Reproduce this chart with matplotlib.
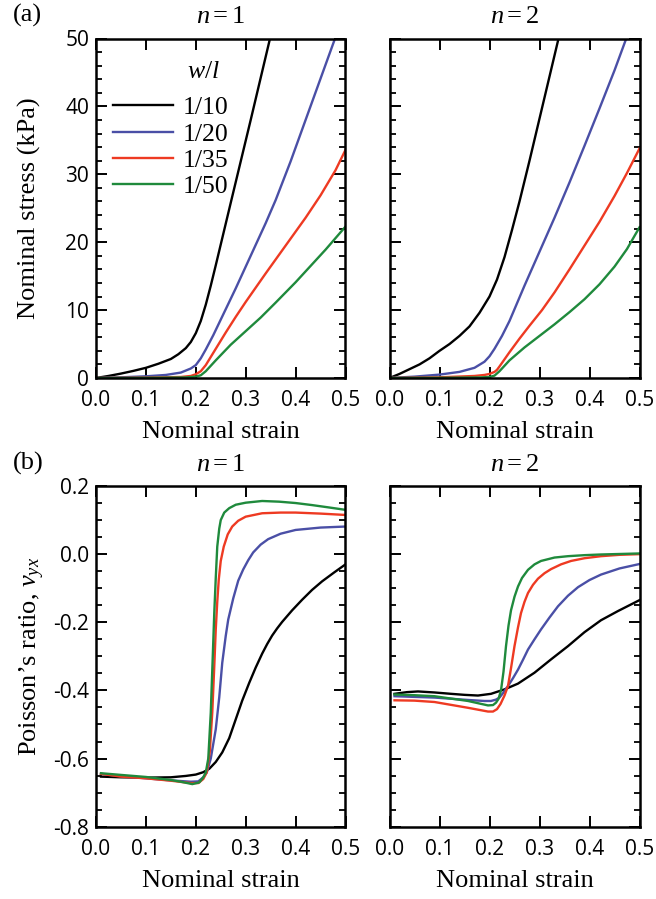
"""Stress-strain and Poisson's ratio curves for n = 1 and n = 2 (four w/l ratios)."""

import matplotlib

matplotlib.use("Agg")

import matplotlib.pyplot as plt
from matplotlib.ticker import FormatStrFormatter, MultipleLocator

plt.rcParams["font.family"] = "Liberation Serif"
plt.rcParams["mathtext.fontset"] = "custom"
plt.rcParams["mathtext.rm"] = "Liberation Serif"
plt.rcParams["mathtext.it"] = "Liberation Serif:italic"
plt.rcParams["axes.unicode_minus"] = False

WL_LABELS = ["1/10", "1/20", "1/35", "1/50"]
COLORS = ["#000000", "#4A4FA6", "#EE3A22", "#1F8A3C"]

# ---- (a) nominal stress (kPa), n = 1 ----
S1_10_X = [0, 0.025, 0.05, 0.075, 0.1, 0.125, 0.15, 0.165, 0.18, 0.19, 0.2, 0.21,
           0.22, 0.23, 0.24, 0.255, 0.27, 0.29, 0.31, 0.33, 0.35]
S1_10_Y = [0, 0.3, 0.65, 1.05, 1.5, 2.1, 2.8, 3.5, 4.4, 5.3, 6.6, 8.4,
           10.8, 13.6, 16.6, 21.2, 25.8, 31.9, 38.0, 44.2, 50.4]
S1_20_X = [0, 0.05, 0.1, 0.14, 0.17, 0.19, 0.2, 0.21, 0.22, 0.235, 0.25, 0.28,
           0.32, 0.34, 0.36, 0.39, 0.42, 0.45, 0.48]
S1_20_Y = [0, 0.1, 0.25, 0.45, 0.8, 1.4, 1.9, 2.9, 4.2, 6.3, 8.6, 13.2,
           19.6, 22.8, 26.2, 31.9, 38.0, 44.1, 50.2]
S1_35_X = [0, 0.1, 0.17, 0.19, 0.2, 0.21, 0.22, 0.23, 0.24, 0.26, 0.28, 0.3,
           0.34, 0.38, 0.42, 0.45, 0.48, 0.5]
S1_35_Y = [0, 0.05, 0.15, 0.3, 0.55, 1.0, 1.9, 3.1, 4.3, 6.7, 9.0, 11.2,
           15.4, 19.5, 23.6, 26.9, 30.6, 33.6]
S1_50_X = [0, 0.1, 0.18, 0.2, 0.21, 0.22, 0.23, 0.24, 0.27, 0.3, 0.33, 0.36,
           0.4, 0.43, 0.46, 0.48, 0.5]
S1_50_Y = [0, 0.02, 0.08, 0.2, 0.4, 1.0, 1.8, 2.6, 4.9, 6.9, 8.9, 11.1,
           14.1, 16.5, 18.9, 20.6, 22.3]

# ---- (a) nominal stress (kPa), n = 2 ----
S2_10_X = [0, 0.02, 0.04, 0.06, 0.08, 0.1, 0.12, 0.14, 0.16, 0.18, 0.2, 0.215,
           0.23, 0.245, 0.26, 0.28, 0.3, 0.32, 0.34]
S2_10_Y = [0, 0.6, 1.3, 2.0, 2.9, 4.0, 5.0, 6.2, 7.6, 9.6, 12.0, 14.5,
           17.8, 21.8, 26.0, 32.0, 38.2, 44.4, 50.6]
S2_20_X = [0, 0.05, 0.1, 0.14, 0.17, 0.19, 0.2, 0.21, 0.225, 0.24, 0.27, 0.3,
           0.33, 0.36, 0.39, 0.42, 0.45, 0.475]
S2_20_Y = [0, 0.2, 0.5, 0.9, 1.5, 2.4, 3.2, 4.3, 6.2, 8.4, 13.6, 18.6,
           23.6, 28.8, 34.2, 39.7, 45.3, 50.3]
S2_35_X = [0, 0.1, 0.17, 0.19, 0.2, 0.21, 0.215, 0.22, 0.24, 0.26, 0.28, 0.305,
           0.33, 0.36, 0.39, 0.42, 0.45, 0.475, 0.5]
S2_35_Y = [0, 0.1, 0.3, 0.45, 0.6, 0.9, 1.2, 1.7, 3.8, 5.8, 7.7, 10.0,
           12.6, 16.0, 19.5, 23.0, 26.8, 30.2, 33.8]
S2_50_X = [0, 0.1, 0.18, 0.2, 0.21, 0.22, 0.24, 0.27, 0.3, 0.33, 0.36, 0.39,
           0.42, 0.45, 0.475, 0.5]
S2_50_Y = [0, 0.03, 0.08, 0.15, 0.35, 1.0, 2.6, 4.5, 6.2, 7.9, 9.7, 11.6,
           13.8, 16.4, 19.0, 22.2]

# ---- (b) Poisson's ratio, n = 1 ----
P1_10_X = [0.01, 0.05, 0.1, 0.15, 0.18, 0.2, 0.215, 0.227, 0.24, 0.253, 0.267, 0.28,
           0.293, 0.307, 0.32, 0.333, 0.343, 0.353, 0.363, 0.373, 0.393, 0.413, 0.433,
           0.453, 0.477, 0.5]
P1_10_Y = [-0.653, -0.655, -0.656, -0.655, -0.651, -0.647, -0.64, -0.63, -0.61, -0.582,
           -0.54, -0.485, -0.43, -0.378, -0.333, -0.292, -0.264, -0.239, -0.218, -0.199,
           -0.165, -0.134, -0.105, -0.08, -0.054, -0.03]
P1_20_X = [0.01, 0.05, 0.1, 0.15, 0.19, 0.205, 0.215, 0.222, 0.23, 0.24, 0.247, 0.253,
           0.26, 0.265, 0.275, 0.285, 0.295, 0.305, 0.315, 0.33, 0.345, 0.37, 0.4,
           0.45, 0.5]
P1_20_Y = [-0.645, -0.652, -0.658, -0.664, -0.668, -0.667, -0.655, -0.641, -0.6, -0.514,
           -0.42, -0.319, -0.24, -0.192, -0.13, -0.078, -0.045, -0.018, 0.005, 0.028,
           0.044, 0.06, 0.071, 0.078, 0.081]
P1_35_X = [0.01, 0.05, 0.1, 0.15, 0.19, 0.205, 0.215, 0.222, 0.228, 0.233, 0.237, 0.24,
           0.243, 0.246, 0.25, 0.256, 0.264, 0.273, 0.285, 0.3, 0.333, 0.37, 0.4, 0.45, 0.5]
P1_35_Y = [-0.645, -0.653, -0.658, -0.665, -0.672, -0.672, -0.66, -0.64, -0.58, -0.465,
           -0.33, -0.221, -0.14, -0.075, -0.02, 0.022, 0.058, 0.081, 0.098, 0.11,
           0.12, 0.122, 0.122, 0.119, 0.115]
P1_50_X = [0.01, 0.05, 0.1, 0.15, 0.17, 0.193, 0.207, 0.215, 0.22, 0.225, 0.23, 0.234,
           0.237, 0.24, 0.243, 0.247, 0.25, 0.257, 0.267, 0.28, 0.3, 0.333, 0.367,
           0.4, 0.433, 0.467, 0.5]
P1_50_Y = [-0.643, -0.648, -0.654, -0.663, -0.668, -0.675, -0.67, -0.655, -0.641, -0.6,
           -0.465, -0.3, -0.173, -0.07, 0.022, 0.075, 0.1, 0.122, 0.135, 0.145,
           0.151, 0.156, 0.154, 0.15, 0.144, 0.137, 0.13]

# ---- (b) Poisson's ratio, n = 2 ----
P2_10_X = [0.01, 0.035, 0.057, 0.09, 0.123, 0.15, 0.177, 0.203, 0.23, 0.257, 0.29,
           0.323, 0.357, 0.39, 0.423, 0.457, 0.5]
P2_10_Y = [-0.41, -0.405, -0.403, -0.406, -0.41, -0.413, -0.415, -0.41, -0.397, -0.38,
           -0.348, -0.309, -0.27, -0.229, -0.194, -0.167, -0.135]
P2_20_X = [0.01, 0.05, 0.09, 0.157, 0.19, 0.203, 0.213, 0.22, 0.228, 0.237, 0.247,
           0.257, 0.267, 0.277, 0.29, 0.303, 0.32, 0.337, 0.357, 0.377, 0.4, 0.423,
           0.46, 0.5]
P2_20_Y = [-0.417, -0.419, -0.421, -0.428, -0.431, -0.431, -0.427, -0.421, -0.406, -0.387,
           -0.364, -0.339, -0.31, -0.28, -0.25, -0.221, -0.186, -0.153, -0.122, -0.097,
           -0.076, -0.06, -0.042, -0.029]
P2_35_X = [0.01, 0.05, 0.09, 0.157, 0.197, 0.207, 0.215, 0.222, 0.23, 0.237, 0.243,
           0.25, 0.257, 0.263, 0.27, 0.277, 0.287, 0.297, 0.31, 0.323, 0.343, 0.363,
           0.39, 0.423, 0.46, 0.5]
P2_35_Y = [-0.429, -0.43, -0.434, -0.451, -0.462, -0.462, -0.455, -0.44, -0.415, -0.387,
           -0.335, -0.27, -0.215, -0.173, -0.14, -0.114, -0.09, -0.072, -0.056, -0.044,
           -0.03, -0.02, -0.012, -0.006, -0.002, 0.0]
P2_50_X = [0.01, 0.05, 0.09, 0.157, 0.197, 0.207, 0.213, 0.218, 0.223, 0.228, 0.233,
           0.238, 0.243, 0.25, 0.257, 0.265, 0.277, 0.29, 0.303, 0.33, 0.357, 0.39,
           0.423, 0.5]
P2_50_Y = [-0.412, -0.414, -0.417, -0.431, -0.444, -0.443, -0.436, -0.425, -0.4, -0.345,
           -0.27, -0.21, -0.165, -0.125, -0.095, -0.07, -0.046, -0.03, -0.02, -0.01,
           -0.006, -0.003, -0.001, 0.002]

STRESS_N1 = [(S1_10_X, S1_10_Y), (S1_20_X, S1_20_Y), (S1_35_X, S1_35_Y), (S1_50_X, S1_50_Y)]
STRESS_N2 = [(S2_10_X, S2_10_Y), (S2_20_X, S2_20_Y), (S2_35_X, S2_35_Y), (S2_50_X, S2_50_Y)]
POISSON_N1 = [(P1_10_X, P1_10_Y), (P1_20_X, P1_20_Y), (P1_35_X, P1_35_Y), (P1_50_X, P1_50_Y)]
POISSON_N2 = [(P2_10_X, P2_10_Y), (P2_20_X, P2_20_Y), (P2_35_X, P2_35_Y), (P2_50_X, P2_50_Y)]

TICK_FONT = "Open Sans"


def style_axes(ax, ylim, ymajor, yminor, yfmt, show_ylabels):
    ax.set_xlim(0, 0.5)
    ax.set_ylim(*ylim)
    ax.xaxis.set_major_locator(MultipleLocator(0.1))
    ax.xaxis.set_major_formatter(FormatStrFormatter("%.1f"))
    ax.yaxis.set_major_locator(MultipleLocator(ymajor))
    ax.yaxis.set_minor_locator(MultipleLocator(yminor))
    ax.yaxis.set_major_formatter(FormatStrFormatter(yfmt))
    ax.tick_params(axis="both", which="both", direction="in", top=True, right=True,
                   labelfontfamily=TICK_FONT, labelsize=15)
    ax.tick_params(axis="both", which="major", length=8, width=1.4)
    ax.tick_params(axis="y", which="minor", length=4.5, width=1.3)
    ax.tick_params(axis="x", which="major", pad=9)
    ax.tick_params(axis="y", which="major", pad=5)
    if not show_ylabels:
        ax.tick_params(axis="y", labelleft=False)
    for spine in ax.spines.values():
        spine.set_linewidth(1.8)
    ax.set_xlabel("Nominal strain", fontsize=19)
    ax.xaxis.set_label_coords(0.5, -0.128)


def draw_curves(ax, series):
    for (xs, ys), color, label in zip(series, COLORS, WL_LABELS):
        ax.plot(xs, ys, color=color, lw=1.7, label=label, solid_joinstyle="round")


fig = plt.figure(figsize=(6.56, 8.99), dpi=100)
W, H = 656.0, 899.0

ax_a1 = fig.add_axes([96 / W, 1 - 378 / H, 249.5 / W, 339.5 / H])
ax_a2 = fig.add_axes([389.5 / W, 1 - 378 / H, 250 / W, 339.5 / H])
ax_b1 = fig.add_axes([96 / W, 1 - 826.7 / H, 249.5 / W, 340.7 / H])
ax_b2 = fig.add_axes([389.5 / W, 1 - 826.7 / H, 250 / W, 340.7 / H])

draw_curves(ax_a1, STRESS_N1)
draw_curves(ax_a2, STRESS_N2)
draw_curves(ax_b1, POISSON_N1)
draw_curves(ax_b2, POISSON_N2)

style_axes(ax_a1, (0, 50), 10, 2, "%d", True)
style_axes(ax_a2, (0, 50), 10, 2, "%d", False)
style_axes(ax_b1, (-0.8, 0.2), 0.2, 0.05, "%.1f", True)
style_axes(ax_b2, (-0.8, 0.2), 0.2, 0.05, "%.1f", False)

ax_a1.set_ylabel("Nominal stress (kPa)", fontsize=19)
ax_a1.yaxis.set_label_coords(-0.22, 0.5)
ax_b1.set_ylabel("Poisson\u2019s ratio, $\\nu_{yx}$", fontsize=19)
ax_b1.yaxis.set_label_coords(-0.195, 0.5)

for ax, n in [(ax_a1, 1), (ax_a2, 2), (ax_b1, 1), (ax_b2, 2)]:
    ax.text(0.5, 1.045, f"$n = {n}$", transform=ax.transAxes, ha="center",
            va="baseline", fontsize=19)

fig.text(13 / W, 1 - 22 / H, "(a)", ha="left", va="baseline", fontsize=19)
fig.text(13 / W, 1 - 470 / H, "(b)", ha="left", va="baseline", fontsize=19)

ax_a1.legend(loc="upper left", bbox_to_anchor=(0.068, 0.83), frameon=False,
             fontsize=18.5, handlelength=2.33, handletextpad=0.4, labelspacing=0.13,
             borderpad=0, borderaxespad=0)
ax_a1.text(0.429, 0.901, "$w/l$", transform=ax_a1.transAxes, ha="center",
           va="center", fontsize=18.5)

fig.savefig("out.png", dpi=100)
